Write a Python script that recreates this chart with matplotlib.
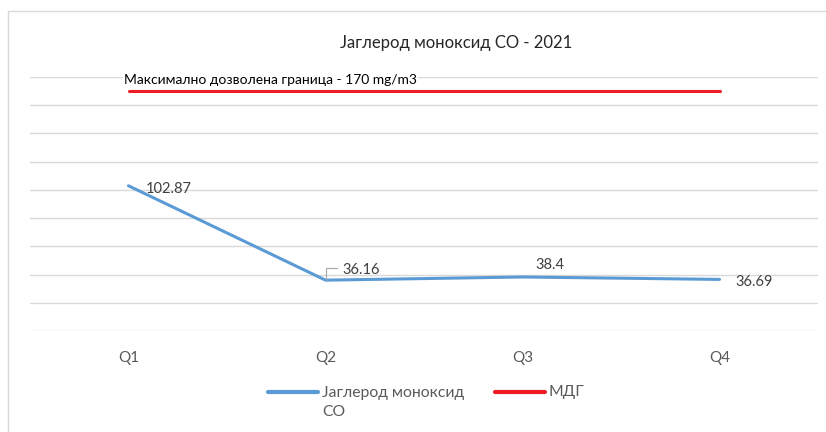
import matplotlib
matplotlib.use('Agg')
import matplotlib.pyplot as plt
from matplotlib.lines import Line2D
from matplotlib.patches import Rectangle

plt.rcParams['font.family'] = ['Lato', 'Noto Sans', 'DejaVu Sans']

W, H = 826, 432

quarters = ['Q1', 'Q2', 'Q3', 'Q4']
co = [102.87, 36.16, 38.4, 36.69]
mdg = [170, 170, 170, 170]

BLUE = '#5B9BD5'
RED = '#EE1C25'
GRID = '#D9D9D9'

fig = plt.figure(figsize=(W / 100, H / 100), dpi=100)


def px(x, y):
    # пиксели -> координаты фигуры
    return x / W, 1 - y / H


# рамка диаграммы
fig.patches.append(Rectangle(px(8.3, 500), 2, (500 - 10.7) / H, transform=fig.transFigure,
                             fill=False, edgecolor=GRID, lw=1))

x0, ytop = px(30, 76.7)
x1, ybot = px(818, 331.3)
ax = fig.add_axes([x0, ybot, x1 - x0, ytop - ybot])
ax.set_xlim(-0.5, 3.5)
ax.set_ylim(0, 180)
ax.set_yticks(range(0, 181, 20))
ax.yaxis.grid(True, color=GRID, lw=1)
ax.set_axisbelow(True)
for s in ax.spines.values():
    s.set_visible(False)
ax.tick_params(axis='y', left=False, labelleft=False)
ax.tick_params(axis='x', bottom=False, labelsize=11, labelcolor='#595959', pad=11)
ax.set_xticks(range(4))
ax.set_xticklabels(quarters)

xs = range(len(quarters))
ax.plot(xs, co, color=BLUE, lw=2.2, solid_capstyle='round', solid_joinstyle='round', zorder=3)
ax.plot(xs, mdg, color=RED, lw=2.2, solid_capstyle='round', zorder=3)

# подписи значений (смещение в пикселях)
offsets = [(17.7, -7.4), (16.7, 5.7), (13.3, 7.7), (15.7, -6.5)]
for i, (v, (dx, dy)) in enumerate(zip(co, offsets)):
    ax.annotate(f'{v:g}', (i, v), xytext=(dx, dy), textcoords='offset pixels',
                ha='left', va='baseline', fontsize=10.5, color='#404040', zorder=4)

# выноска для Q2
ax.annotate('', xy=(1, co[1]), xytext=(11.7, 12.3), textcoords='offset pixels',
            arrowprops=dict(arrowstyle='-', color='#A6A6A6', lw=0.8, shrinkA=0, shrinkB=0,
                            connectionstyle='angle,angleA=0,angleB=90,rad=0'))

ax.text(-0.023, 174.9, 'Максимално дозволена граница - 170 mg/m3', ha='left', va='baseline',
        fontsize=10, color='black', zorder=5,
        bbox=dict(facecolor='white', edgecolor='none', pad=0.5))

tx, ty = px(456, 48.3)
fig.text(tx, ty, 'Јаглерод моноксид СО - 2021', ha='center', va='baseline',
         fontsize=12, color='#262626')

# легенда
lx0, ly = px(268, 391.7)
lx1, _ = px(318, 391.7)
fig.add_artist(Line2D([lx0, lx1], [ly, ly], color=BLUE, lw=3, solid_capstyle='round',
                      transform=fig.transFigure))
fig.text(*px(322, 386.5), 'Јаглерод моноксид\nСО', ha='left', va='top', fontsize=11.3,
         color='#595959', linespacing=1.45, transform=fig.transFigure)
rx0, _ = px(495, 391.7)
rx1, _ = px(545, 391.7)
fig.add_artist(Line2D([rx0, rx1], [ly, ly], color=RED, lw=3, solid_capstyle='round',
                      transform=fig.transFigure))
fig.text(*px(549, 391.7), 'МДГ', ha='left', va='center', fontsize=11.3, color='#595959')

fig.savefig('out.png', dpi=100)
